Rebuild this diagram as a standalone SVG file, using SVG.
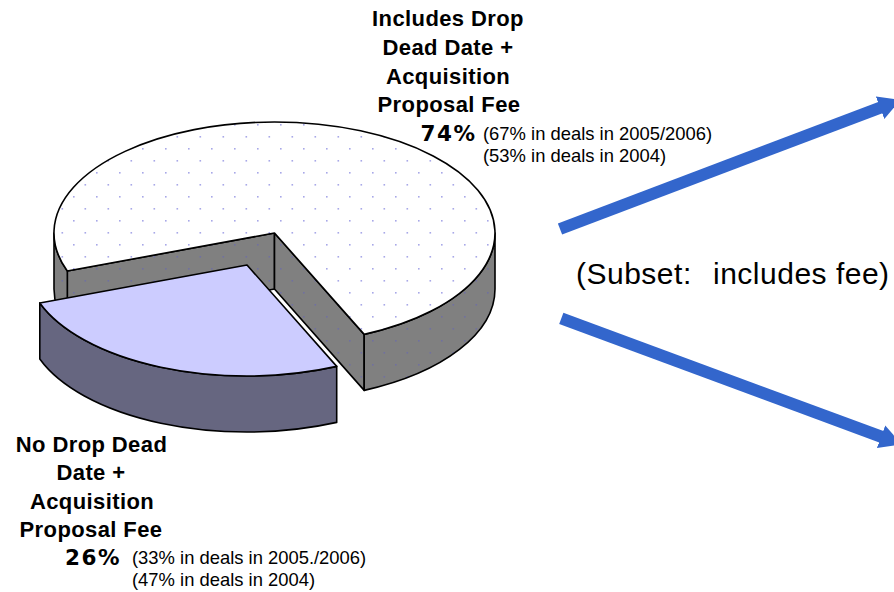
<svg xmlns="http://www.w3.org/2000/svg" width="894" height="592" viewBox="0 0 894 592">
<style>
.edge{stroke:#000;stroke-width:1.6;stroke-linejoin:round}
.lbl{font-family:"Liberation Sans",Arial,sans-serif;font-weight:bold;font-size:22px;letter-spacing:0.4px;text-anchor:middle;fill:#000}
.pct{font-family:"DejaVu Sans",Verdana,sans-serif;font-weight:bold;font-size:21.5px;letter-spacing:1.5px;fill:#000}
.sm{font-family:"Liberation Sans",Arial,sans-serif;font-size:18.4px;fill:#000}
.sub{font-family:"Liberation Sans",Arial,sans-serif;font-size:30px;letter-spacing:0.5px;fill:#000}
.arrow{stroke:#3366cc;stroke-width:12;fill:none;stroke-linecap:butt}
</style>
<defs>
<pattern id="dotW" width="23" height="24" patternUnits="userSpaceOnUse">
<rect width="23" height="24" fill="#ffffff"/>
<rect x="4" y="4" width="1.6" height="1.6" fill="#a8a8e8"/>
<rect x="15.5" y="16" width="1.6" height="1.6" fill="#a8a8e8"/>
</pattern>
<pattern id="dotG" width="23" height="24" patternUnits="userSpaceOnUse">
<rect width="23" height="24" fill="#808080"/>
<rect x="4" y="4" width="1.6" height="1.6" fill="#7070a0"/>
<rect x="15.5" y="16" width="1.6" height="1.6" fill="#7070a0"/>
</pattern>
<marker id="ah" markerUnits="userSpaceOnUse" viewBox="0 0 22 24" markerWidth="22" markerHeight="24" refX="1" refY="12" orient="auto">
<path d="M0,0 L22,12 L0,24 Z" fill="#3366cc"/>
</marker>
</defs>
<rect width="894" height="592" fill="#ffffff"/>

<g id="slice-includes">
<path class="edge" fill="url(#dotG)" d="M274.5,233 L67.3,271 L67.3,327 L274.5,289 Z"/>
<path class="edge" fill="url(#dotG)" d="M274.5,233 L364.2,334.4 L364.2,390.4 L274.5,289 Z"/>
<path class="edge" fill="url(#dotG)" d="M54,233 A220.5,111 0 0 0 67.3,271 L67.3,327 A220.5,111 0 0 1 54,289 Z"/>
<path class="edge" fill="url(#dotG)" d="M364.2,334.4 A220.5,111 0 0 0 495,233 L495,289 A220.5,111 0 0 1 364.2,390.4 Z"/>
<path class="edge" fill="url(#dotW)" d="M274.5,233 L67.3,271 A220.5,111 0 1 1 364.2,334.4 Z"/>
</g>

<g id="slice-no">
<path class="edge" fill="#666680" d="M336.7,366.4 A220.5,111 0 0 1 39.8,303 L39.8,359 A220.5,111 0 0 0 336.7,422.4 Z"/>
<path class="edge" fill="#ccccff" d="M247,265 L336.7,366.4 A220.5,111 0 0 1 39.8,303 Z"/>
</g>

<g id="label-includes">
<text class="lbl" x="448" y="26">Includes Drop</text>
<text class="lbl" x="448" y="55">Dead Date +</text>
<text class="lbl" x="448" y="83.5">Acquisition</text>
<text class="lbl" x="449" y="112">Proposal Fee</text>
<text class="pct" x="420.5" y="141">74%</text>
<text class="sm" x="483" y="139.5">(67% in deals in 2005/2006)</text>
<text class="sm" x="483" y="161.5">(53% in deals in 2004)</text>
</g>

<g id="label-no">
<text class="lbl" x="91.5" y="452">No Drop Dead</text>
<text class="lbl" x="91" y="480">Date +</text>
<text class="lbl" x="92" y="508.5">Acquisition</text>
<text class="lbl" x="91" y="537">Proposal Fee</text>
<text class="pct" x="65" y="565">26%</text>
<text class="sm" x="132" y="564">(33% in deals in 2005./2006)</text>
<text class="sm" x="132" y="586">(47% in deals in 2004)</text>
</g>

<g id="connectors">
<line class="arrow" x1="560" y1="229" x2="881" y2="107.3" marker-end="url(#ah)"/>
<line class="arrow" x1="561.3" y1="318.3" x2="882" y2="437" marker-end="url(#ah)"/>
</g>

<g id="subset-label">
<text class="sub" x="576" y="284">(Subset:<tspan x="713">includes fee)</tspan></text>
</g>
</svg>
